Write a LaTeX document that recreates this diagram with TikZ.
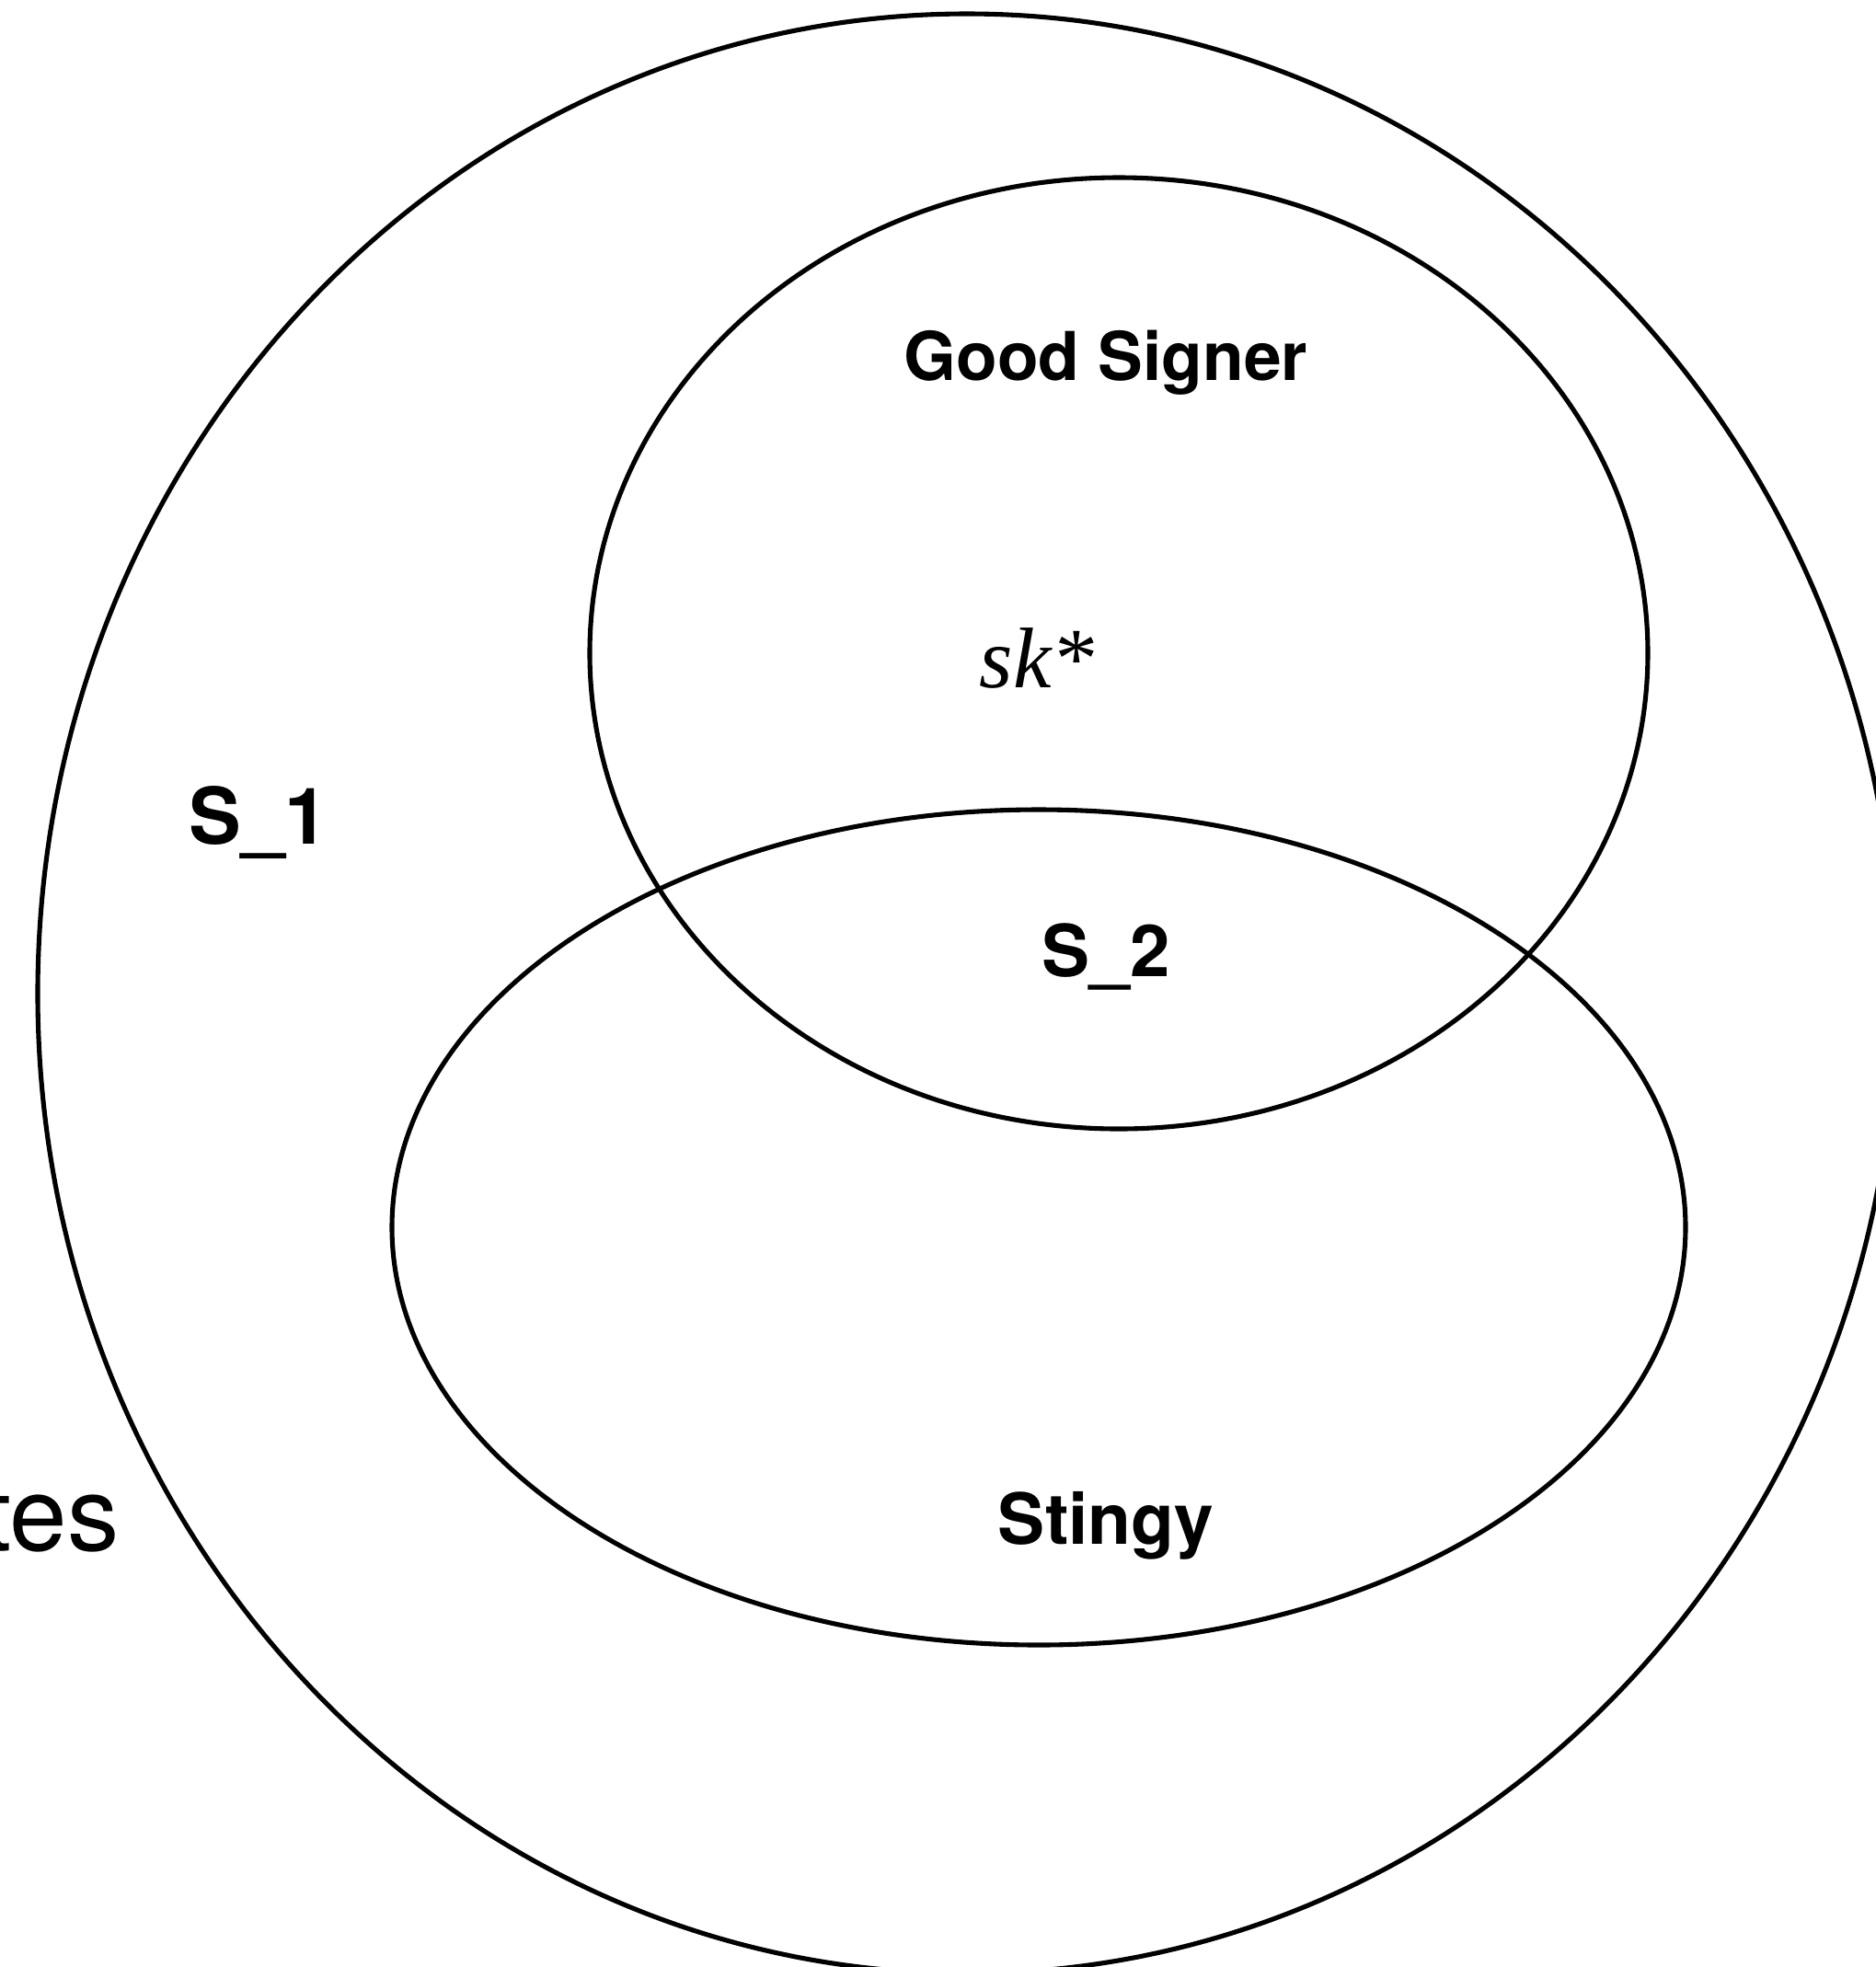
\documentclass[tikz,border=0pt]{standalone}
\usepackage{fontspec}
\setmainfont{TeX Gyre Heros}
\newfontfamily\skfont{Liberation Serif}
\usepackage{tikz}

\begin{document}
\begin{tikzpicture}[line width=1.45pt,
    setlabel/.style={font=\bfseries, inner sep=0pt, anchor=base}]
            \useasboundingbox (0,0) rectangle (20.39,-21.38);
            \clip (0,0) rectangle (20.39,-21.38);
            \draw (10.51,-10.80) ellipse (10.10 and 10.65);
            \draw (12.16,-7.10) ellipse (5.75 and 5.17);
            \draw (11.29,-13.34) ellipse (7.03 and 4.54);
            \node[setlabel] (good) at (12.02,-4.13) {\fontsize{20.8}{24}\selectfont Good Signer};
            \node[inner sep=0pt, anchor=base] (sk) at (11.27,-7.47) {\skfont\itshape\fontsize{26.6}{30}\selectfont sk*};
            \node[setlabel] (s1) at (2.81,-9.17) {\fontsize{24.2}{30}\selectfont S\_1};
            \node[setlabel] (s2) at (12.02,-10.61) {\fontsize{22.2}{28}\selectfont S\_2};
            \node[setlabel] (stingy) at (12.02,-16.78) {\fontsize{21.8}{26}\selectfont Stingy};
            \node[inner sep=0pt, anchor=base east] (tes) at (1.32,-16.85) {\fontsize{32}{36}\selectfont tes};
        \end{tikzpicture}
\end{document}
